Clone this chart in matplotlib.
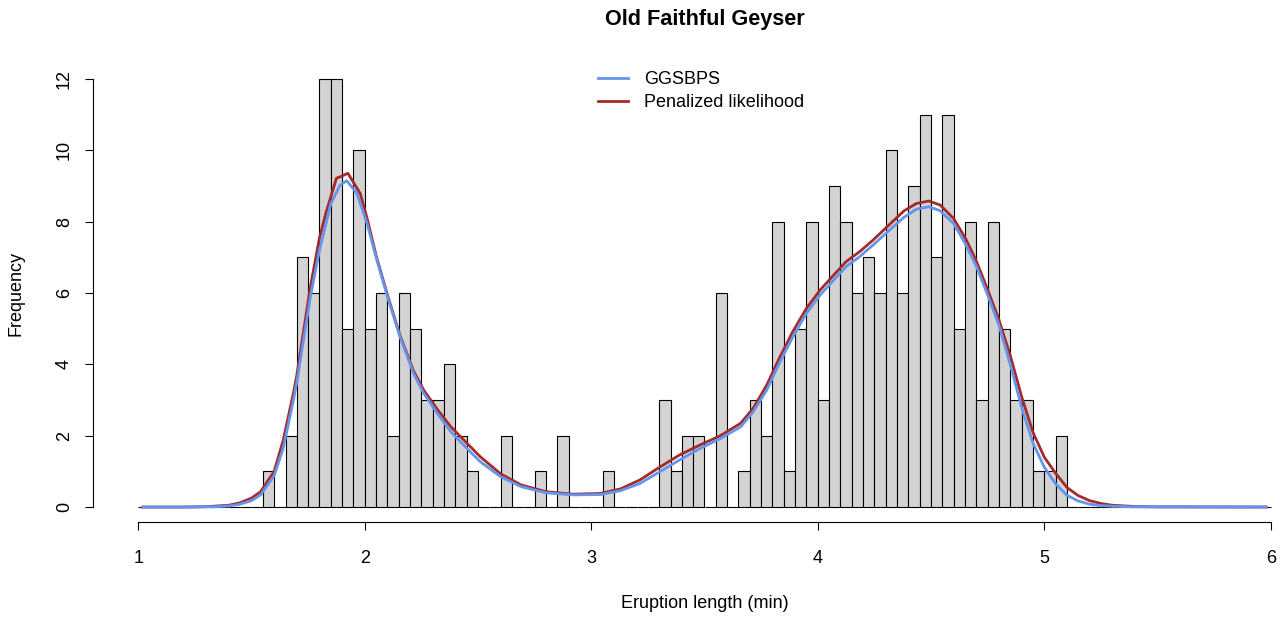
import matplotlib
matplotlib.use("Agg")
import matplotlib.pyplot as plt
import numpy as np

plt.rcParams['font.family'] = ['Liberation Sans', 'DejaVu Sans']

# histogram: breaks 1.00 .. 6.00 by 0.05, counts per bin
bin_width = 0.05
bin_left = np.round(np.arange(1.0, 6.0, bin_width), 2)
counts = [0] * 11 + [
    1, 0, 2, 7, 6, 12, 12, 5, 10, 5,      # 1.55 - 2.00
    6, 2, 6, 5, 3, 3, 4, 2, 1, 0,         # 2.05 - 2.50
    0, 2, 0, 0, 1, 0, 2, 0, 0, 0,         # 2.55 - 3.00
    1, 0, 0, 0, 0, 3, 1, 2, 2, 0,         # 3.05 - 3.50
    6, 0, 1, 3, 2, 8, 1, 5, 8, 3,         # 3.55 - 4.00
    9, 8, 6, 7, 6, 10, 6, 9, 11, 7,       # 4.05 - 4.50
    11, 5, 8, 3, 8, 5, 3, 3, 1, 1,        # 4.55 - 5.00
    2,                                    # 5.05
] + [0] * 18

# fitted densities, scaled to frequency
ggsbps_x = [1.02, 1.20, 1.30, 1.35, 1.40, 1.45, 1.50, 1.54, 1.60, 1.64,
            1.685, 1.70, 1.76, 1.80, 1.85, 1.89, 1.92, 1.965, 2.01, 2.05,
            2.10, 2.155, 2.215, 2.26, 2.32, 2.38, 2.45, 2.51, 2.60, 2.69,
            2.80, 2.92, 3.04, 3.13, 3.215, 3.30, 3.39, 3.48, 3.57, 3.66,
            3.715, 3.775, 3.83, 3.89, 3.95, 4.01, 4.07, 4.125, 4.185, 4.245,
            4.305, 4.38, 4.435, 4.49, 4.54, 4.60, 4.65, 4.70, 4.75, 4.80,
            4.85, 4.90, 4.95, 5.00, 5.05, 5.10, 5.15, 5.20, 5.25, 5.30,
            5.40, 5.98]
ggsbps_y = [0.0, 0.0, 0.005, 0.01, 0.03, 0.08, 0.18, 0.34, 0.88, 1.65,
            3.0, 3.5, 5.9, 7.2, 8.5, 9.02, 9.15, 8.8, 7.95, 7.0,
            5.9, 4.78, 3.75, 3.19, 2.63, 2.11, 1.65, 1.27, 0.85, 0.57,
            0.40, 0.34, 0.35, 0.46, 0.66, 0.98, 1.32, 1.64, 1.92, 2.25,
            2.67, 3.28, 4.03, 4.77, 5.43, 5.94, 6.36, 6.74, 7.02, 7.35,
            7.70, 8.12, 8.35, 8.42, 8.31, 7.95, 7.4, 6.75, 5.95, 5.1,
            4.0, 2.8, 1.8, 1.12, 0.65, 0.33, 0.17, 0.08, 0.04, 0.02,
            0.005, 0.0]

penlik_x = [1.02, 1.20, 1.30, 1.40, 1.45, 1.50, 1.54, 1.60, 1.64, 1.685,
            1.70, 1.76, 1.80, 1.83, 1.875, 1.90, 1.925, 1.95, 1.98, 2.01,
            2.05, 2.10, 2.155, 2.215, 2.26, 2.32, 2.38, 2.465, 2.51, 2.60,
            2.69, 2.80, 2.92, 3.04, 3.13, 3.215, 3.30, 3.39, 3.48, 3.57,
            3.66, 3.715, 3.775, 3.83, 3.89, 3.95, 4.01, 4.07, 4.125, 4.185,
            4.245, 4.305, 4.38, 4.435, 4.49, 4.54, 4.60, 4.655, 4.70, 4.75,
            4.80, 4.85, 4.90, 4.95, 5.00, 5.05, 5.10, 5.15, 5.20, 5.25,
            5.30, 5.40, 5.50, 5.98]
penlik_y = [0.0, 0.0, 0.01, 0.05, 0.12, 0.25, 0.43, 1.0, 1.88, 3.2,
            3.7, 6.18, 7.55, 8.28, 9.22, 9.28, 9.36, 9.1, 8.79, 8.1,
            7.05, 5.95, 4.82, 3.82, 3.28, 2.74, 2.25, 1.70, 1.41, 0.93,
            0.62, 0.43, 0.36, 0.38, 0.51, 0.76, 1.11, 1.46, 1.74, 2.0,
            2.35, 2.77, 3.42, 4.17, 4.92, 5.57, 6.08, 6.5, 6.88, 7.16,
            7.49, 7.85, 8.3, 8.51, 8.58, 8.47, 8.09, 7.5, 6.9, 6.1,
            5.25, 4.25, 3.1, 2.1, 1.4, 0.95, 0.55, 0.32, 0.18, 0.1,
            0.05, 0.015, 0.005, 0.0]

W, H = 1287, 618
fs = 13

fig = plt.figure(figsize=(W / 100, H / 100), dpi=100)
ax = fig.add_axes([93 / W, (H - 522) / H, (1316 - 93) / W, (522 - 63) / H])

ax.bar(bin_left, counts, width=bin_width, align='edge',
       color='#d3d3d3', edgecolor='black', linewidth=0.8, zorder=1)

red, = ax.plot(penlik_x, penlik_y, color='#a52a2a', lw=2.0, zorder=2)
blue, = ax.plot(ggsbps_x, ggsbps_y, color='#6495ed', lw=2.0, zorder=3)

ax.set_xlim(0.8, 6.2)
ax.set_ylim(-0.42, 12.45)

for s in ['top', 'right']:
    ax.spines[s].set_visible(False)
ax.spines['left'].set_bounds(0, 12)
ax.spines['bottom'].set_bounds(1, 6)
for s in ['left', 'bottom']:
    ax.spines[s].set_linewidth(0.8)

ax.set_xticks([1, 2, 3, 4, 5, 6])
ax.set_yticks(range(0, 13, 2))
ax.set_yticklabels([str(v) for v in range(0, 13, 2)], rotation=90, va='center')
ax.tick_params(axis='both', length=5.5, width=0.8, labelsize=fs)
ax.tick_params(axis='x', pad=15)
ax.tick_params(axis='y', pad=9)

ax.legend([blue, red], ['GGSBPS', 'Penalized likelihood'],
          loc='upper left', bbox_to_anchor=(598 / W, 1 - 71 / H),
          bbox_transform=fig.transFigure, frameon=False, fontsize=fs,
          borderpad=0, borderaxespad=0, handlelength=1.65,
          handletextpad=0.9, labelspacing=0.33)

fig.text(705 / W, 1 - 19 / H, 'Old Faithful Geyser', ha='center', va='center',
         fontsize=fs * 1.2, fontweight='bold')
fig.text(705 / W, 1 - 603 / H, 'Eruption length (min)', ha='center',
         va='center', fontsize=fs)
fig.text(16 / W, 1 - 293 / H, 'Frequency', ha='center', va='center',
         rotation=90, fontsize=fs)

fig.savefig('out.png', dpi=100)
